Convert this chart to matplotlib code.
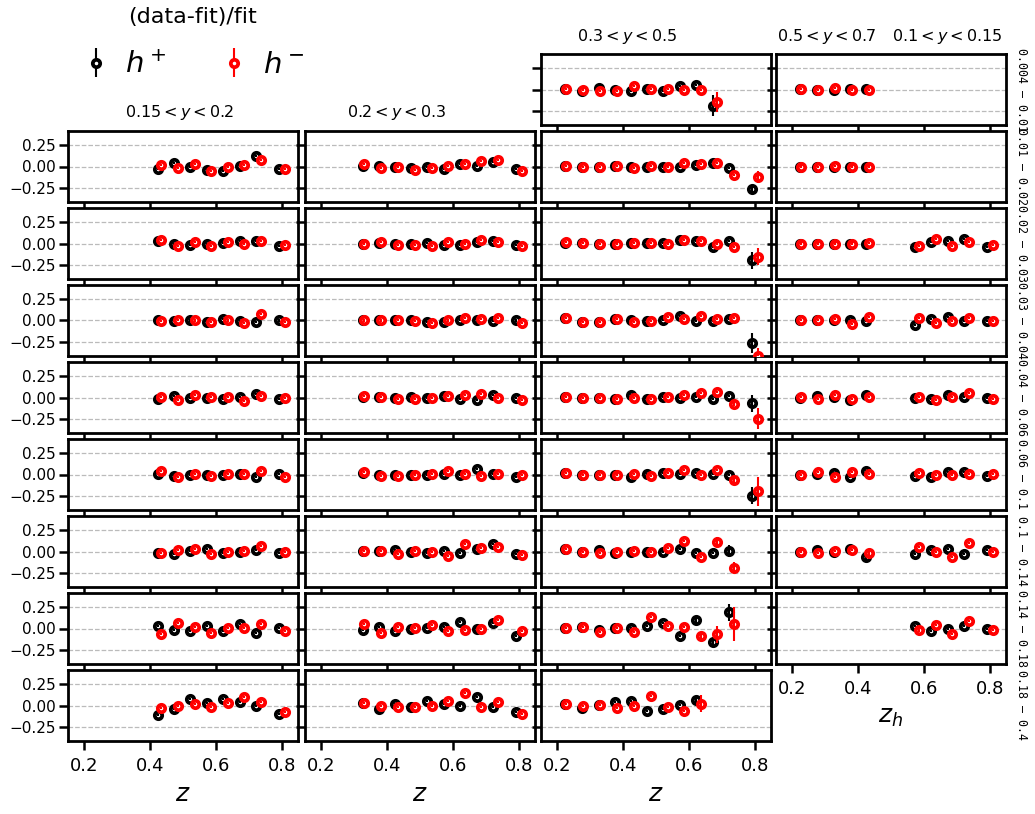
import numpy as np
import matplotlib
matplotlib.use("Agg")
import matplotlib.pyplot as plt

N = np.nan

# z bins (mean z for h+ and h- slightly different)
z_hp = [0.224, 0.275, 0.325, 0.375, 0.423, 0.473, 0.522, 0.572, 0.622, 0.672, 0.722, 0.793]
z_hm = [0.227, 0.279, 0.330, 0.381, 0.432, 0.484, 0.535, 0.585, 0.636, 0.686, 0.737, 0.809]

y_bins = ["$0.15 < y < 0.2$", "$0.2 < y < 0.3$", "$0.3 < y < 0.5$", "$0.5 < y < 0.7$"]
extra_title = "$0.1 < y < 0.15$"
x_bins = ["0.004 – 0.01", "0.01 – 0.02", "0.02 – 0.03", "0.03 – 0.04", "0.04 – 0.06",
          "0.06 – 0.1", "0.1 – 0.14", "0.14 – 0.18", "0.18 – 0.4"]

# (data-fit)/fit, rows = x bins 0..8, entries = z bins (NaN = no point)
hp_c0 = [
    None,
    [N, N, N, N, -0.03, 0.04, 0.0, -0.04, -0.05, 0.01, 0.12, -0.03],
    [N, N, N, N, 0.03, -0.01, -0.02, -0.01, 0.005, 0.03, 0.025, -0.025],
    [N, N, N, N, 0.0, -0.01, 0.0, -0.02, 0.02, -0.01, -0.02, 0.0],
    [N, N, N, N, -0.015, 0.015, -0.005, -0.01, -0.015, 0.01, 0.04, -0.015],
    [N, N, N, N, 0.005, -0.02, 0.0, 0.0, 0.0, 0.005, -0.035, 0.01],
    [N, N, N, N, -0.015, -0.025, 0.005, 0.03, -0.015, 0.0, 0.015, -0.02],
    [N, N, N, N, 0.035, -0.015, -0.035, 0.035, -0.03, 0.05, -0.05, 0.005],
    [N, N, N, N, -0.115, -0.045, 0.075, 0.03, 0.075, 0.045, -0.01, -0.095],
]
hm_c0 = [
    None,
    [N, N, N, N, 0.015, -0.015, 0.03, -0.055, 0.0, 0.015, 0.08, -0.035],
    [N, N, N, N, 0.04, -0.025, 0.015, -0.025, 0.015, 0.0, 0.03, -0.02],
    [N, N, N, N, -0.01, 0.01, 0.0, -0.02, 0.0, -0.035, 0.08, -0.015],
    [N, N, N, N, 0.01, -0.025, 0.025, 0.005, 0.01, -0.04, 0.02, -0.005],
    [N, N, N, N, 0.04, -0.025, 0.005, -0.015, 0.01, 0.01, 0.04, -0.025],
    [N, N, N, N, -0.02, 0.02, 0.035, -0.035, -0.005, 0.005, 0.06, -0.01],
    [N, N, N, N, -0.07, 0.06, 0.015, -0.055, 0.01, 0.01, 0.05, -0.03],
    [N, N, N, N, -0.035, 0.0, 0.02, -0.02, 0.03, 0.105, 0.04, -0.08],
]
hp_c1 = [
    None,
    [N, N, 0.005, 0.005, 0.0, -0.02, -0.01, -0.03, 0.03, 0.01, 0.055, -0.035],
    [N, N, 0.0, 0.01, 0.0, -0.01, 0.005, -0.02, -0.015, 0.015, 0.025, -0.015],
    [N, N, 0.0, 0.0, 0.0, 0.0, -0.02, -0.015, 0.01, 0.0, -0.01, 0.0],
    [N, N, 0.01, 0.01, -0.01, 0.005, 0.0, 0.015, -0.015, -0.025, 0.035, -0.01],
    [N, N, 0.015, 0.0, -0.01, 0.0, 0.0, 0.01, -0.01, 0.06, 0.01, -0.035],
    [N, N, 0.005, 0.01, 0.02, -0.005, -0.015, 0.005, -0.015, 0.035, 0.085, -0.035],
    [N, N, -0.015, 0.015, -0.025, 0.0, 0.005, 0.015, 0.075, -0.01, 0.065, -0.085],
    [N, N, 0.03, -0.04, 0.02, -0.02, 0.05, 0.015, 0.0, 0.105, -0.02, -0.075],
]
hm_c1 = [
    None,
    [N, N, 0.03, -0.02, 0.0, -0.04, -0.02, 0.005, 0.03, 0.065, 0.075, -0.055],
    [N, N, 0.0, 0.02, -0.015, -0.02, -0.03, 0.015, 0.0, 0.04, 0.015, -0.025],
    [N, N, 0.0, 0.0, 0.01, -0.01, -0.03, 0.0, 0.03, 0.015, 0.025, -0.025],
    [N, N, 0.015, 0.01, -0.015, -0.015, -0.01, 0.015, 0.035, 0.045, -0.005, -0.025],
    [N, N, 0.03, -0.02, -0.015, 0.0, 0.005, 0.04, 0.005, -0.02, 0.005, -0.01],
    [N, N, 0.005, 0.01, -0.025, 0.01, -0.005, -0.05, 0.09, 0.04, 0.05, -0.04],
    [N, N, 0.05, -0.05, 0.015, 0.01, 0.04, -0.035, -0.02, -0.01, 0.105, -0.03],
    [N, N, 0.03, -0.005, -0.02, -0.02, 0.0, 0.055, 0.15, -0.015, 0.045, -0.1],
]
hp_c2 = [
    [0.005, -0.015, 0.015, -0.01, -0.015, 0.01, -0.015, 0.04, 0.05, -0.19, N, N],
    [0.005, 0.0, -0.005, 0.005, -0.01, -0.005, 0.0, 0.0, 0.02, 0.045, -0.02, -0.27],
    [0.01, 0.005, -0.005, 0.0, 0.005, 0.005, 0.005, 0.04, 0.025, -0.04, 0.035, -0.2],
    [0.025, -0.015, -0.015, 0.015, 0.01, -0.005, 0.01, 0.05, -0.005, -0.005, 0.02, -0.265],
    [0.005, -0.005, -0.005, -0.015, 0.03, -0.015, 0.005, -0.005, 0.01, -0.015, 0.02, -0.07],
    [0.015, -0.005, -0.005, -0.005, -0.035, 0.01, 0.02, 0.01, 0.02, 0.005, -0.005, -0.25],
    [0.025, -0.01, 0.015, -0.015, 0.0, -0.005, 0.0, 0.025, -0.015, -0.015, 0.01, N],
    [0.01, 0.02, -0.02, 0.005, 0.005, 0.03, 0.06, -0.085, 0.105, -0.165, 0.19, N],
    [0.02, -0.025, 0.005, 0.04, 0.05, -0.065, -0.045, 0.005, 0.065, N, N, N],
]
hm_c2 = [
    [0.005, 0.0, -0.02, -0.02, 0.04, 0.005, 0.01, -0.005, -0.005, -0.15, N, N],
    [0.01, -0.005, -0.01, 0.005, -0.02, 0.01, 0.0, 0.04, 0.03, 0.045, -0.105, -0.125],
    [0.015, 0.005, -0.01, 0.0, 0.005, 0.005, 0.0, 0.04, 0.03, 0.0, -0.04, -0.155],
    [0.03, -0.015, -0.02, 0.02, -0.02, -0.01, 0.04, 0.015, 0.055, 0.015, 0.025, -0.42],
    [0.01, -0.005, -0.005, -0.015, -0.005, -0.015, 0.01, 0.035, 0.055, 0.06, -0.075, -0.25],
    [0.02, -0.005, -0.005, 0.0, 0.01, -0.015, 0.02, 0.055, -0.01, 0.055, -0.07, -0.2],
    [0.035, -0.005, -0.015, -0.01, 0.005, -0.005, 0.045, 0.125, -0.06, 0.115, -0.19, N],
    [0.01, 0.02, -0.04, 0.005, -0.045, 0.135, 0.03, 0.015, -0.09, -0.07, 0.055, N],
    [0.015, -0.01, 0.005, -0.03, -0.005, 0.115, -0.015, -0.07, 0.02, N, N, N],
]
hp_c3 = [
    [0.005, 0.0, 0.0, 0.005, 0.005, N, N, N, N, N, N, N],
    [0.0, 0.0, 0.0, 0.0, 0.0, N, N, N, N, N, N, N],
    [0.0, 0.0, 0.0, 0.0, 0.0, N, N, -0.045, 0.02, 0.035, 0.055, -0.04],
    [0.0, 0.0, 0.005, 0.01, -0.005, N, N, -0.055, 0.015, 0.045, -0.01, -0.005],
    [0.0, 0.015, 0.01, -0.03, 0.035, N, N, 0.0, -0.015, 0.03, 0.005, 0.0],
    [-0.005, 0.01, 0.02, -0.035, 0.045, N, N, -0.015, -0.025, 0.035, 0.035, -0.02],
    [0.0, 0.015, 0.0, 0.03, -0.06, N, N, -0.025, 0.015, 0.035, -0.035, 0.015],
    [N, N, N, N, N, N, N, 0.035, -0.03, 0.0, 0.025, -0.005],
    None,
]
hm_c3 = [
    [0.005, -0.01, 0.015, 0.0, -0.005, N, N, N, N, N, N, N],
    [0.0, -0.005, 0.005, 0.0, 0.0, N, N, N, N, N, N, N],
    [0.0, 0.0, 0.0, 0.0, 0.005, N, N, -0.025, 0.055, -0.035, 0.02, -0.015],
    [0.005, 0.01, 0.02, -0.04, 0.04, N, N, 0.03, -0.025, -0.01, 0.035, -0.01],
    [0.005, -0.015, 0.025, -0.015, 0.005, N, N, 0.01, -0.03, 0.005, 0.055, -0.02],
    [-0.005, 0.035, -0.035, 0.03, 0.005, N, N, 0.015, -0.005, 0.0, 0.005, 0.005],
    [0.0, -0.02, 0.005, 0.02, -0.015, N, N, 0.05, -0.01, -0.065, 0.095, -0.005],
    [N, N, N, N, N, N, N, -0.015, 0.04, -0.06, 0.09, -0.02],
    None,
]

# uncertainties: small everywhere except the listed ones (row, bin, err)
err_small = 0.012
big_err_hp = {
    2: [(0, 9, 0.12), (1, 11, 0.05), (2, 11, 0.1), (3, 11, 0.12), (4, 11, 0.1), (5, 11, 0.1),
        (6, 10, 0.07), (7, 8, 0.04), (7, 9, 0.05), (7, 10, 0.1), (8, 8, 0.03)],
    3: [(6, 4, 0.04)],
}
big_err_hm = {
    2: [(0, 9, 0.12), (1, 11, 0.07), (2, 11, 0.1), (3, 11, 0.1), (4, 11, 0.12), (5, 11, 0.17),
        (4, 10, 0.03), (5, 10, 0.03), (6, 9, 0.06), (6, 10, 0.07), (7, 8, 0.05), (7, 9, 0.1),
        (7, 10, 0.2), (8, 8, 0.1)],
    3: [(6, 4, 0.05), (7, 7, 0.03)],
}

hp_cols = [hp_c0, hp_c1, hp_c2, hp_c3]
hm_cols = [hm_c0, hm_c1, hm_c2, hm_c3]

W, H = 1035, 814
col_left = [68, 305, 541, 776]
row_top = [54 + 77 * i for i in range(9)]
aw, ah = 230, 71

MS, MEW, ELW = 5.3, 2.7, 1.5


def pbox(l, t, w=aw, h=ah):
    return [l / W, 1 - (t + h) / H, w / W, h / H]


def errs(table, col, row, n):
    e = np.full(n, err_small)
    for r, b, v in table.get(col, []):
        if r == row:
            e[b] = v
    return e


fig = plt.figure(figsize=(W / 100, H / 100), dpi=100)

last_row = [8, 8, 8, 7]
handles = []
for c in range(4):
    for r in range(9):
        vp = hp_cols[c][r]
        vm = hm_cols[c][r]
        if vp is None:
            continue
        ax = fig.add_axes(pbox(col_left[c], row_top[r]))
        vp = np.array(vp, dtype=float)
        vm = np.array(vm, dtype=float)
        ep = errs(big_err_hp, c, r, len(vp))
        em = errs(big_err_hm, c, r, len(vm))
        ax.plot(z_hp, vp, 'o', ms=MS, mfc='white', mec='black', mew=MEW, zorder=3)
        ax.errorbar(z_hp, vp, yerr=ep, fmt='none', ecolor='black', elinewidth=ELW, zorder=4)
        ax.plot(z_hm, vm, 'o', ms=MS, mfc='white', mec='red', mew=MEW, zorder=5)
        ax.errorbar(z_hm, vm, yerr=em, fmt='none', ecolor='red', elinewidth=ELW, zorder=6)
        if not handles:
            handles = [
                ax.errorbar([], [], yerr=[], fmt='o', ms=MS, mfc='white', mec='black', mew=MEW,
                            ecolor='black', elinewidth=ELW, color='black'),
                ax.errorbar([], [], yerr=[], fmt='o', ms=MS, mfc='white', mec='red', mew=MEW,
                            ecolor='red', elinewidth=ELW, color='red'),
            ]
        ax.set_xlim(0.15, 0.85)
        ax.set_ylim(-0.42, 0.42)
        ax.set_xticks([0.2, 0.4, 0.6, 0.8])
        ax.set_yticks([-0.25, 0.0, 0.25])
        ax.yaxis.grid(True, linestyle='--', color='#bbbbbb', linewidth=0.9)
        ax.set_axisbelow(True)
        for s in ax.spines.values():
            s.set_linewidth(2.0)
        ax.tick_params(direction='out', length=6.5, width=1.8)
        ax.tick_params(axis='x', labelsize=13, pad=5)
        ax.tick_params(axis='y', labelsize=11, pad=2)
        if c != 0:
            ax.set_yticklabels([])
        if r != last_row[c]:
            ax.set_xticklabels([])
        else:
            ax.set_xlabel("$z_h$" if c == 3 else "$z$", fontsize=18, labelpad=5)

# column titles
fig.text(180 / W, 1 - 112 / H, y_bins[0], fontsize=11.5, ha='center', va='center')
fig.text(397 / W, 1 - 112 / H, y_bins[1], fontsize=11.5, ha='center', va='center')
fig.text(627 / W, 1 - 37 / H, y_bins[2], fontsize=11.5, ha='center', va='center')
fig.text(826 / W, 1 - 37 / H, y_bins[3], fontsize=11.5, ha='center', va='center')
fig.text(947 / W, 1 - 37 / H, extra_title, fontsize=11.5, ha='center', va='center')

# x bin labels on the right
for r in range(9):
    fig.text(1021 / W, 1 - (row_top[r] + ah / 2) / H, x_bins[r], rotation=270,
             family='DejaVu Sans Mono', fontsize=8.4, ha='center', va='center')

fig.legend(handles, ["$h^+$", "$h^-$"], loc='upper left', bbox_to_anchor=(0.073, 0.998),
           ncol=2, frameon=False, fontsize=21, title="(data-fit)/fit", title_fontsize=16,
           handlelength=1.0, handletextpad=0.5, columnspacing=1.8,
           borderpad=0.2, borderaxespad=0.0, labelspacing=0.8)

fig.savefig("out.png", dpi=100)
